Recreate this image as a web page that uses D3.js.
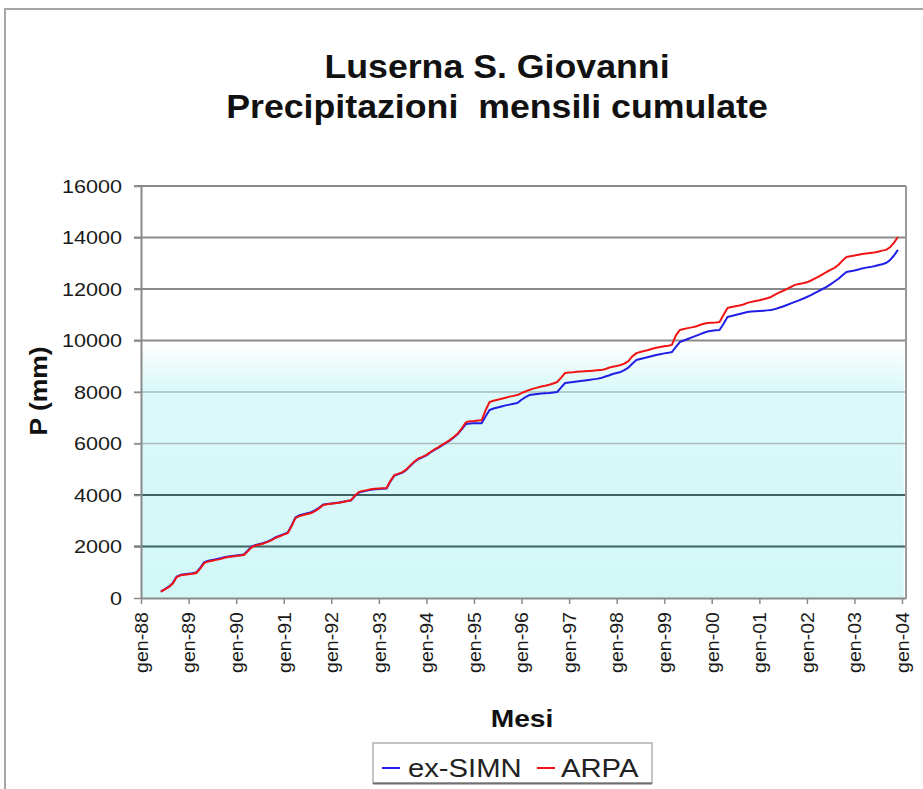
<!DOCTYPE html>
<html>
<head>
<meta charset="utf-8">
<script src="https://cdn.jsdelivr.net/npm/d3@7"></script>
<style>
  html, body { margin: 0; padding: 0; background: #ffffff; }
  svg { display: block; font-family: "Liberation Sans", Arial, sans-serif; }
</style>
</head>
<body>
<svg id="chart" width="923" height="789"></svg>
<script>
// ---------------- DATA ----------------
const titleLines = ["Luserna S. Giovanni", "Precipitazioni  mensili cumulate"];
const seriesNames = ["ex-SIMN", "ARPA"];
const startYear = 1988, startMonth = 5; // first value: jun-88
const yTicks = [0, 2000, 4000, 6000, 8000, 10000, 12000, 14000, 16000];
const xTickYears = [1988,1989,1990,1991,1992,1993,1994,1995,1996,1997,1998,1999,2000,2001,2002,2003,2004];
const xTickLabels = ["gen-88","gen-89","gen-90","gen-91","gen-92","gen-93","gen-94","gen-95","gen-96","gen-97","gen-98","gen-99","gen-00","gen-01","gen-02","gen-03","gen-04"];

// cumulative monthly precipitation (mm), jun-88 .. dic-03
const exSimn = [
  250,340,440,580,830,900,920,
  940,960,990,1180,1390,1450,1480,1510,1540,1580,1610,1630,
  1650,1670,1690,1850,2000,2060,2100,2140,2200,2270,2360,2420,
  2480,2540,2800,3130,3210,3250,3290,3330,3410,3510,3630,3650,
  3670,3690,3710,3740,3770,3790,3960,4100,4140,4170,4200,4220,
  4230,4240,4250,4540,4760,4810,4870,4980,5140,5280,5400,5460,
  5540,5650,5740,5830,5930,6020,6120,6240,6380,6560,6760,6780,
  6785,6788,6790,7060,7300,7360,7400,7440,7480,7510,7540,7570,
  7700,7800,7880,7900,7920,7940,7950,7960,7980,8000,8180,8350,
  8370,8390,8410,8430,8450,8470,8490,8510,8540,8590,8640,8700,
  8740,8780,8850,8950,9100,9240,9280,9320,9360,9400,9440,9470,
  9500,9520,9550,9750,9940,10000,10060,10120,10180,10240,10300,10350,
  10380,10400,10410,10650,10910,10950,10990,11030,11070,11110,11130,11140,
  11150,11160,11170,11180,11220,11270,11320,11380,11440,11500,11560,11620,
  11690,11760,11840,11920,12000,12080,12180,12290,12400,12530,12660,12690,
  12720,12760,12800,12830,12850,12880,12920,12960,13010,13120,13300,13520
];
const arpa = [
  250,330,420,560,815,880,900,
  920,940,970,1150,1360,1420,1450,1480,1510,1560,1590,1610,
  1630,1650,1670,1820,1980,2040,2080,2120,2180,2250,2340,2400,
  2460,2520,2780,3100,3180,3220,3260,3300,3380,3490,3610,3640,
  3660,3680,3700,3730,3770,3800,3980,4120,4160,4190,4220,4240,
  4250,4260,4270,4560,4780,4830,4890,5000,5160,5300,5420,5480,
  5560,5670,5760,5850,5950,6040,6140,6260,6400,6600,6830,6860,
  6870,6890,6900,7300,7610,7660,7700,7740,7780,7820,7850,7880,
  7960,8020,8080,8130,8170,8210,8240,8280,8330,8390,8560,8740,
  8760,8770,8790,8800,8810,8820,8830,8840,8850,8880,8940,8980,
  9010,9050,9100,9200,9380,9510,9550,9590,9630,9680,9720,9750,
  9780,9800,9830,10200,10410,10450,10480,10510,10540,10600,10650,10680,
  10690,10700,10720,11000,11260,11300,11330,11360,11400,11460,11500,11530,
  11560,11600,11640,11690,11780,11860,11930,12000,12080,12160,12190,12220,
  12260,12330,12400,12480,12570,12660,12740,12820,12940,13100,13240,13270,
  13300,13330,13360,13380,13400,13420,13450,13490,13520,13620,13800,14020
];
const seriesColors = ["#1f1fe6", "#f01414"];

// ---------------- CHART ----------------
const svg = d3.select("#chart");
const W = 923, H = 789;
const plot = { left: 141, right: 906, top: 186, bottom: 598 };

svg.append("rect").attr("width", W).attr("height", H).attr("fill", "#ffffff");
// outer chart frame
svg.append("path").attr("d", `M5,${H} V9 H${W}`).attr("fill", "none")
  .attr("stroke", "#a6a6a6").attr("stroke-width", 2);

const x = d3.scaleTime()
  .domain([new Date(1988, 0, 1), new Date(2004, 1, 1)])
  .range([plot.left, plot.right]);
const y = d3.scaleLinear().domain([0, 16000]).range([plot.bottom, plot.top]);

// cyan backdrop in the lower part of the plot
const defs = svg.append("defs");
const grad = defs.append("linearGradient").attr("id", "cy").attr("x1", 0).attr("x2", 0).attr("y1", 0).attr("y2", 1);
grad.append("stop").attr("offset", "0").attr("stop-color", "#ffffff");
grad.append("stop").attr("offset", "0.07").attr("stop-color", "#eefcfc");
grad.append("stop").attr("offset", "0.16").attr("stop-color", "#dcf9f9");
grad.append("stop").attr("offset", "1").attr("stop-color", "#d3f7f7");
svg.append("rect")
  .attr("x", plot.left).attr("y", y(9800))
  .attr("width", x(new Date(2004, 0, 15)) - plot.left)
  .attr("height", plot.bottom - y(9800))
  .attr("fill", "url(#cy)");

// gridlines
function gridColor(v) { return v >= 10000 ? "#8a8a8a" : (v >= 6000 ? "#aabcbc" : "#3d6262"); }
svg.append("g").selectAll("line").data(yTicks.filter(v => v > 0)).join("line")
  .attr("x1", plot.left - 7).attr("x2", plot.right)
  .attr("y1", d => y(d)).attr("y2", d => y(d))
  .attr("stroke", d => gridColor(d))
  .attr("stroke-width", d => (d >= 6000 && d < 10000) ? 1.5 : 2);

// y axis
const yAxis = svg.append("g").attr("transform", `translate(${plot.left},0)`)
  .call(d3.axisLeft(y).tickValues(yTicks).tickSize(7).tickSizeOuter(0).tickFormat(d3.format("d")));
yAxis.select(".domain").attr("stroke", "#8a8a8a").attr("stroke-width", 2);
yAxis.selectAll(".tick line").attr("stroke", "#8a8a8a").attr("stroke-width", 1.5);
yAxis.selectAll(".tick text")
  .attr("font-size", 18).attr("fill", "#1a1a1a")
  .attr("font-family", "Liberation Sans, Arial, sans-serif")
  .attr("x", -19 / 1.2).attr("dy", "0.36em")
  .attr("transform", "scale(1.2,1)");

// x axis
const tickDates = xTickYears.map(yr => new Date(yr, 0, 1));
const xAxis = svg.append("g").attr("transform", `translate(0,${plot.bottom})`)
  .call(d3.axisBottom(x).tickValues(tickDates).tickSize(6).tickSizeOuter(0)
    .tickFormat((d, i) => xTickLabels[i]));
xAxis.select(".domain").attr("stroke", "#8a8a8a").attr("stroke-width", 2);
xAxis.selectAll(".tick line").attr("stroke", "#8a8a8a").attr("stroke-width", 1.5);
xAxis.selectAll(".tick text")
  .attr("font-size", 17.5).attr("fill", "#1a1a1a")
  .attr("font-family", "Liberation Sans, Arial, sans-serif")
  .attr("text-anchor", "end")
  .attr("x", -14 / 1.12).attr("y", 0).attr("dy", "0.36em")
  .attr("transform", "rotate(-90) scale(1.12,1)");

// right border of plot area
svg.append("line").attr("x1", plot.right).attr("x2", plot.right)
  .attr("y1", plot.top).attr("y2", plot.bottom)
  .attr("stroke", "#9a9a9a").attr("stroke-width", 2);

// series lines
const line = d3.line()
  .x((d, i) => x(new Date(startYear, startMonth + i, 1)))
  .y(d => y(d));
[exSimn, arpa].forEach((s, k) => {
  svg.append("path").datum(s)
    .attr("d", line)
    .attr("fill", "none")
    .attr("stroke", seriesColors[k])
    .attr("stroke-width", 2)
    .attr("stroke-linejoin", "round");
});

// titles
titleLines.forEach((t, i) => {
  svg.append("text")
    .attr("transform", `translate(497,${78 + i * 40}) scale(1.05,1)`)
    .attr("text-anchor", "middle")
    .attr("xml:space", "preserve")
    .style("white-space", "pre")
    .attr("font-size", 34).attr("font-weight", "bold").attr("fill", "#111")
    .text(t);
});

// axis titles
svg.append("text")
  .attr("transform", "translate(47,391) rotate(-90) scale(1.15,1)")
  .attr("text-anchor", "middle")
  .attr("font-size", 23).attr("font-weight", "bold").attr("fill", "#111")
  .text("P (mm)");
svg.append("text")
  .attr("transform", "translate(522,727) scale(1.2,1)")
  .attr("text-anchor", "middle")
  .attr("font-size", 23.5).attr("font-weight", "bold").attr("fill", "#111")
  .text("Mesi");

// legend
const lg = svg.append("g");
lg.append("rect").attr("x", 373).attr("y", 743).attr("width", 279).attr("height", 40)
  .attr("fill", "#ffffff").attr("stroke", "#b0b0b0").attr("stroke-width", 1.5);
lg.append("line").attr("x1", 373).attr("x2", 652).attr("y1", 783.5).attr("y2", 783.5)
  .attr("stroke", "#707070").attr("stroke-width", 2);
const legendX = [[382, 408], [537, 561]];
seriesNames.forEach((n, k) => {
  lg.append("line").attr("x1", legendX[k][0]).attr("x2", legendX[k][0] + 18)
    .attr("y1", 768).attr("y2", 768)
    .attr("stroke", seriesColors[k]).attr("stroke-width", 2);
  lg.append("text")
    .attr("transform", `translate(${legendX[k][1]},777) scale(1.17,1)`)
    .attr("font-size", 25).attr("fill", "#222")
    .text(n);
});
</script>
</body>
</html>
